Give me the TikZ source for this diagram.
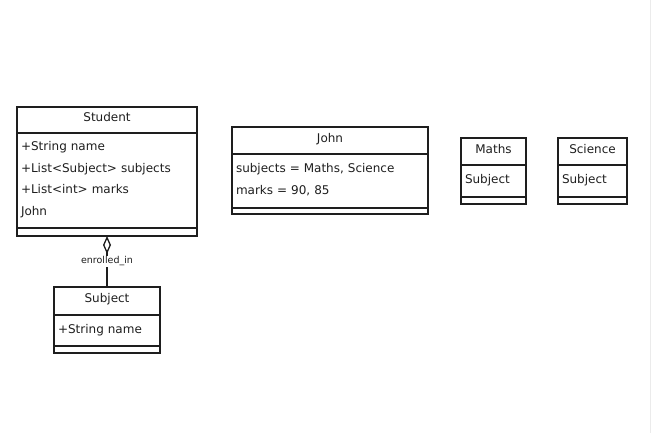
\documentclass[tikz,border=0pt]{standalone}
\usepackage{fontspec}
\setmainfont{DejaVu Sans}
\usetikzlibrary{positioning,arrows.meta}
\definecolor{ink}{RGB}{30,30,30}
\newcommand{\liftstrut}{\rule[-4pt]{0pt}{4pt}}

\begin{document}
\begin{tikzpicture}[x=1pt,y=-1pt,node distance=0pt]
        \tikzstyle{every node}=[draw=ink,line width=1.3pt,inner sep=0pt,outer sep=0pt,text=ink]
        \tikzstyle{title}=[font=\fontsize{12}{14}\selectfont,text height=8pt,text depth=5pt]
        \tikzstyle{fields}=[font=\fontsize{12}{21.5}\selectfont,align=left,inner xsep=4pt,execute at end node={\liftstrut}]
        \useasboundingbox (0,0) rectangle (660,433);
        \draw[black!8,line width=1pt] (650.5,0) -- (650.5,433);
        % class Student
        \node[title,anchor=north west,minimum width=180pt,minimum height=26pt] (student) at (17,107) {Student};
        \node[fields,below=of student,text width=172pt,minimum height=95pt] (student body) {+String name\\+List<Subject> subjects\\+List<int> marks\\John};
        \node[below=of student body,minimum width=180pt,minimum height=8pt] (student foot) {};
        % class Subject
        \node[title,anchor=north west,minimum width=106pt,minimum height=28pt] (subject) at (54,287) {Subject};
        \node[fields,below=of subject,text width=98pt,minimum height=31pt] (subject body) {+String name};
        \node[below=of subject body,minimum width=106pt,minimum height=7pt] (subject foot) {};
        % object John
        \node[title,anchor=north west,minimum width=196pt,minimum height=27pt] (john) at (232,127) {John};
        \node[fields,below=of john,text width=188pt,minimum height=54pt] (john body) {subjects = Maths, Science\\marks = 90, 85};
        \node[below=of john body,minimum width=196pt,minimum height=6pt] (john foot) {};
        % objects Maths and Science
        \node[title,anchor=north west,minimum width=65pt,minimum height=27pt] (maths) at (461,138) {Maths};
        \node[fields,below=of maths,text width=57pt,minimum height=32pt] (maths body) {Subject};
        \node[below=of maths body,minimum width=65pt,minimum height=7pt] (maths foot) {};
        \node[title,anchor=north west,minimum width=69pt,minimum height=27pt] (science) at (558,138) {Science};
        \node[fields,below=of science,text width=61pt,minimum height=32pt] (science body) {Subject};
        \node[below=of science body,minimum width=69pt,minimum height=7pt] (science foot) {};
        % aggregation
        \draw[ink,line width=1.3pt,{Diamond[open,length=18pt,width=8pt]}-] (student foot.south) -- node[draw=none,fill=white,inner sep=1pt,font=\fontsize{9.5}{11}\selectfont] {enrolled\_in} (subject.north);
    \end{tikzpicture}
\end{document}
